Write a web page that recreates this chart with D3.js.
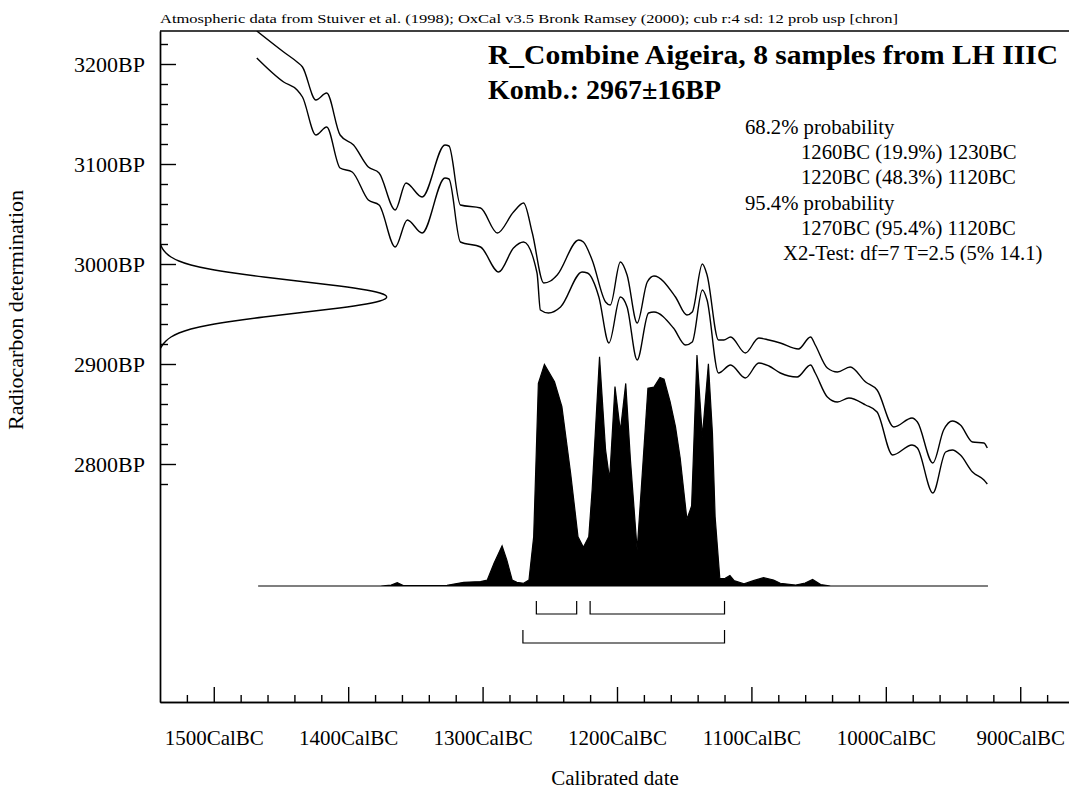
<!DOCTYPE html>
<html><head><meta charset="utf-8">
<script src="https://cdn.jsdelivr.net/npm/d3@7"></script>
<style>
body{margin:0;background:#fff}
svg{display:block}
text{font-family:"Liberation Serif","Times New Roman",serif;fill:#000}
</style>
</head><body>
<svg id="c" width="1069" height="799"></svg>
<script>
// ---------- data ----------
const xMajorTicks = [1500, 1400, 1300, 1200, 1100, 1000, 900];
const yMajorTicks = [3200, 3100, 3000, 2900, 2800];

// calibration curve, upper (+1 sd) line: calendar year BC / BP
const upperYears = [1468,1448,1438,1434,1424,1416,1406,1396,1385,1377,1365,1357,1345,1328,1325,1316.5,1301.5,1289,1277,1269.5,1263,1254.5,1249.5,1244.5,1228.5,1225,1218.5,1208.5,1205,1197.5,1192.5,1185,1177.5,1172.5,1156.5,1148,1144,1136.5,1133,1124.5,1120.5,1115.5,1104.5,1094.5,1087,1078.5,1065,1056,1052.5,1043.5,1036,1026.5,1015,1006.5,994,980.5,976.5,965,957,950.5,944.5,935.5,927,924.5];
const upperBP    = [3233,3212,3202,3197,3164,3171,3129,3119,3097,3091,3054,3081,3067,3119,3118,3059,3056,3031,3052,3061,3031,2981,2983,2989,3024,3022,3004,2962,2959,3002,2989,2941,2982,2988,2967,2949,2952,3000,2989,2924,2924,2927,2911,2926,2924,2921,2915,2927,2919,2896,2892,2897,2882,2874,2837,2846,2842,2801,2834,2843,2839,2822,2821,2816];
// calibration curve, lower (-1 sd) line
const lowerYears = [1468,1448,1438,1434,1424,1416,1406,1397,1385,1377,1365,1356,1345,1328,1325,1316.5,1301.5,1288,1277,1269.5,1259.5,1257,1251,1242,1226,1222,1213.5,1206,1197.5,1192.5,1185,1176.5,1172.5,1158,1149,1144,1136.5,1133,1124.5,1115.5,1104.5,1094.5,1087,1078.5,1066,1056,1052.5,1043.5,1036,1027.5,1015,1006.5,995,980.5,976.5,965,955.5,950.5,944.5,935.5,927,924.5];
const lowerBP    = [3206,3182,3174,3167,3129,3137,3096,3092,3064,3059,3017,3044,3031,3086,3085,3022,3017,2992,3016,3022,2991,2954,2951,2957,2992,2991,2967,2921,2967,2957,2904,2951,2952,2936,2919,2922,2974,2964,2891,2899,2886,2901,2898,2891,2887,2899,2891,2867,2862,2866,2859,2852,2809,2819,2816,2771,2812,2814,2809,2792,2784,2780];

// combined calibrated distribution (relative probability)
const distYears = [1467,1376,1368,1363.5,1359,1326.5,1314,1301.5,1296.5,1291.5,1285.5,1282,1278,1274.5,1269.5,1265.5,1262,1260,1258.5,1254,1246.5,1241,1234.5,1229,1225,1221,1218.5,1213,1208.5,1205.5,1201.5,1197.5,1193.5,1190,1185,1182,1177,1172.5,1168,1165,1160.5,1156.5,1153,1148,1144.5,1143,1140.5,1136.5,1132,1129,1127,1123.5,1119.5,1116,1113,1105.5,1098.5,1091,1083.5,1078.5,1067,1060,1054.5,1048.5,1041,924];
const distProb  = [0,0,0.004,0.014,0.002,0.003,0.016,0.019,0.026,0.098,0.174,0.113,0.026,0.016,0.012,0.026,0.213,0.589,0.877,0.959,0.884,0.776,0.488,0.213,0.168,0.213,0.416,0.992,0.589,0.461,0.863,0.671,0.877,0.545,0.156,0.416,0.856,0.861,0.903,0.895,0.798,0.690,0.554,0.289,0.346,0.589,1.0,0.646,0.962,0.662,0.300,0.032,0.033,0.045,0.024,0.009,0.023,0.036,0.026,0.012,0.004,0.013,0.028,0.006,0,0];

// radiocarbon measurement 2967±16 BP (relative probability)
const measBP   = [3021,3015,3011,3007,3003,2999,2995,2991,2987,2983,2979,2975,2971,2967,2963,2959,2955,2951,2947,2943,2939,2935,2931,2927,2923,2919,2915];
const measProb = [0,0.01,0.025,0.046,0.08,0.13,0.21,0.32,0.45,0.6,0.75,0.88,0.97,1,0.97,0.88,0.75,0.6,0.45,0.32,0.21,0.13,0.08,0.046,0.025,0.01,0];

// ranges
const ranges68 = [[1260, 1230], [1220, 1120]];
const ranges95 = [[1270, 1120]];

const headerText = "Atmospheric data from Stuiver et al. (1998); OxCal v3.5 Bronk Ramsey (2000); cub r:4 sd: 12 prob usp [chron]";
const titleLines = ["R_Combine Aigeira, 8 samples from LH IIIC", "Komb.: 2967\u00b116BP"];
const infoLines = [
  {t: "68.2% probability", indent: 0},
  {t: "1260BC (19.9%) 1230BC", indent: 1},
  {t: "1220BC (48.3%) 1120BC", indent: 1},
  {t: "95.4% probability", indent: 0},
  {t: "1270BC (95.4%) 1120BC", indent: 1},
  {t: "X2-Test: df=7 T=2.5 (5% 14.1)", indent: 2}
];

// ---------- drawing ----------
const svg = d3.select("#c");
const L = 160, T = 31, B = 702, R = 1074;

const x = d3.scaleLinear().domain([1540, 860]).range([L, R]);
const y = d3.scaleLinear().domain([3233, 2562]).range([T, B]);
const pY = d3.scaleLinear().domain([0, 1]).range([y(2678), y(2909)]);
const gX = d3.scaleLinear().domain([0, 1]).range([L, L + 229]);

svg.append("defs").append("clipPath").attr("id", "plot")
  .append("rect").attr("x", L).attr("y", T).attr("width", 1069 - L).attr("height", B - T);

const g = svg.append("g").attr("clip-path", "url(#plot)");

// calibration curve
const lineGen = d3.line().x(d => x(d[0])).y(d => y(d[1])).curve(d3.curveMonotoneX);
g.append("path").datum(d3.zip(upperYears, upperBP).map(d => [-d[0], d[1]]))
  .attr("d", d3.line().x(d => x(-d[0])).y(d => y(d[1])).curve(d3.curveMonotoneX))
  .attr("fill", "none").attr("stroke", "#000").attr("stroke-width", 1.4);
g.append("path").datum(d3.zip(lowerYears, lowerBP).map(d => [-d[0], d[1]]))
  .attr("d", d3.line().x(d => x(-d[0])).y(d => y(d[1])).curve(d3.curveMonotoneX))
  .attr("fill", "none").attr("stroke", "#000").attr("stroke-width", 1.4);

// calibrated distribution
const area = d3.area().x(d => x(d[0])).y0(pY(0)).y1(d => pY(d[1]));
g.append("path").datum(d3.zip(distYears, distProb)).attr("d", area)
  .attr("fill", "#000").attr("stroke", "#000").attr("stroke-width", 1.2);

// measurement curve on y axis
const mLine = d3.line().x(d => gX(d[1])).y(d => y(d[0])).curve(d3.curveBasis);
g.append("path").datum(d3.zip(measBP, measProb)).attr("d", mLine)
  .attr("fill", "none").attr("stroke", "#000").attr("stroke-width", 1.4);

// range brackets
function brackets(ranges, yy) {
  ranges.forEach(r => {
    const x0 = x(r[0]), x1 = x(r[1]);
    svg.append("path")
      .attr("d", `M${x0},${yy - 13}V${yy}H${x1}V${yy - 13}`)
      .attr("fill", "none").attr("stroke", "#000").attr("stroke-width", 1.2);
  });
}
brackets(ranges68, 614);
brackets(ranges95, 643);

// axes
const minorX = d3.range(1520, 860, -20).filter(v => v % 100 !== 0);
const minorY = d3.range(3220, 2779, -20).filter(v => v % 100 !== 0);

svg.append("g").attr("transform", `translate(0,${B})`)
  .call(d3.axisBottom(x).tickValues(minorX).tickSize(-7).tickSizeOuter(0).tickFormat(""));
const xMajor = svg.append("g").attr("transform", `translate(0,${B})`)
  .call(d3.axisBottom(x).tickValues(xMajorTicks).tickSize(-15).tickSizeOuter(0).tickFormat(d => d + "CalBC"));
xMajor.selectAll(".tick text").attr("y", 43).attr("dy", 0)
  .style("font-size", "21px").style("font-family", '"Liberation Serif",serif');

svg.append("g").attr("transform", `translate(${L},0)`)
  .call(d3.axisLeft(y).tickValues(minorY).tickSize(-8).tickSizeOuter(0).tickFormat(""));
const yMajor = svg.append("g").attr("transform", `translate(${L},0)`)
  .call(d3.axisLeft(y).tickValues(yMajorTicks).tickSize(-16).tickSizeOuter(0).tickFormat(d => d + "BP"));
yMajor.selectAll(".tick text").attr("x", -15).attr("dy", "0.34em")
  .style("font-size", "22px").style("font-family", '"Liberation Serif",serif');

svg.selectAll(".domain, .tick line").attr("stroke", "#000").attr("stroke-width", 1.4);

// top frame line
svg.append("line").attr("x1", L).attr("x2", 1069).attr("y1", T).attr("y2", T)
  .attr("stroke", "#000").attr("stroke-width", 1.4);

// header
svg.append("text").attr("x", L).attr("y", 23).style("font-size", "13.5px")
  .attr("textLength", 738).attr("lengthAdjust", "spacingAndGlyphs").text(headerText);

// title
svg.append("text").attr("x", 488).attr("y", 64).style("font-size", "28px").style("font-weight", "bold")
  .attr("textLength", 570).attr("lengthAdjust", "spacingAndGlyphs").text(titleLines[0]);
svg.append("text").attr("x", 488).attr("y", 99).style("font-size", "28px").style("font-weight", "bold")
  .text(titleLines[1]);

// info lines
const indents = [745, 801, 783];
infoLines.forEach((l, i) => {
  svg.append("text").attr("x", indents[l.indent]).attr("y", 134 + i * 25.2)
    .style("font-size", "20.7px").text(l.t);
});

// axis titles
svg.append("text").attr("x", 615).attr("y", 785).attr("text-anchor", "middle")
  .style("font-size", "21px").text("Calibrated date");
svg.append("text").attr("transform", "translate(23,310) rotate(-90)").attr("text-anchor", "middle")
  .style("font-size", "22px").text("Radiocarbon determination");
</script>
</body></html>
